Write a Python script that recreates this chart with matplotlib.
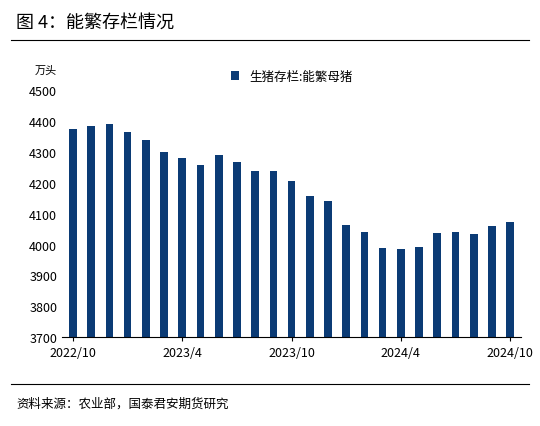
import matplotlib
matplotlib.use("Agg")
import matplotlib.pyplot as plt

plt.rcParams['font.family'] = ['Noto Sans CJK SC', 'DejaVu Sans']

months = ["2022/10", "2022/11", "2022/12", "2023/1", "2023/2", "2023/3", "2023/4",
          "2023/5", "2023/6", "2023/7", "2023/8", "2023/9", "2023/10", "2023/11",
          "2023/12", "2024/1", "2024/2", "2024/3", "2024/4", "2024/5", "2024/6",
          "2024/7", "2024/8", "2024/9", "2024/10"]
sows = [4375, 4385, 4390, 4365, 4340, 4300, 4280, 4258, 4292, 4267, 4240, 4240,
        4206, 4158, 4140, 4065, 4040, 3990, 3985, 3992, 4037, 4040, 4034, 4062, 4073]
tick_idx = [0, 6, 12, 18, 24]

fig = plt.figure(figsize=(5.4, 4.27), dpi=100)
ax = fig.add_axes([0.115, 0.208, 0.85, 0.578])

x = range(len(months))
ax.bar(x, sows, width=0.42, color="#0b3b75", label="生猪存栏:能繁母猪")
ax.set_ylim(3700, 4500)
ax.set_yticks(range(3700, 4501, 100))
ax.set_xlim(-0.6, len(months) - 0.4)
ax.set_xticks(tick_idx)
ax.set_xticklabels([months[i] for i in tick_idx])
ax.tick_params(axis="x", length=3, labelsize=9)
ax.tick_params(axis="y", length=0, labelsize=9)
for s in ["top", "right", "left"]:
    ax.spines[s].set_visible(False)
ax.text(-0.06, 1.07, "万头", transform=ax.transAxes, fontsize=8)
ax.legend(loc="upper center", bbox_to_anchor=(0.5, 1.13), frameon=False,
          fontsize=9, handlelength=0.7, handleheight=0.7)

fig.text(0.03, 0.935, "图 4：能繁存栏情况", fontsize=13)
fig.add_artist(plt.Line2D([0.02, 0.98], [0.905, 0.905], color="black", lw=0.8))
fig.add_artist(plt.Line2D([0.02, 0.98], [0.098, 0.098], color="black", lw=0.8))
fig.text(0.03, 0.045, "资料来源：农业部，国泰君安期货研究", fontsize=9)

fig.savefig("out.png")
